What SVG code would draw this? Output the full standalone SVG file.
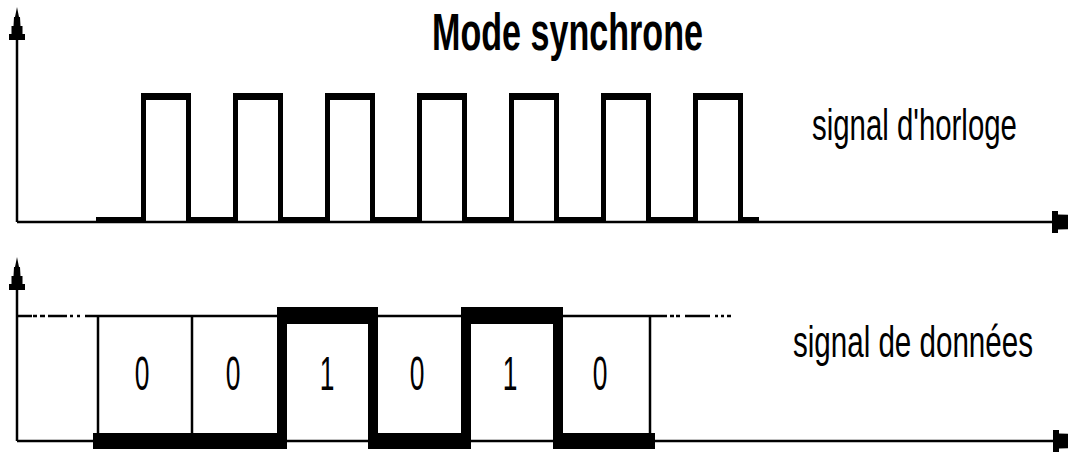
<svg xmlns="http://www.w3.org/2000/svg" width="1068" height="452" viewBox="0 0 1068 452">
<style>
.bg{fill:#fff}
.axis{stroke:#000;stroke-width:2.5;fill:none}
.thin{stroke:#000;stroke-width:2.5;fill:none}
.sig{fill:#000}
.lbl{font-family:"Liberation Sans",Arial,sans-serif;font-size:44px;fill:#000}
.title{font-family:"Liberation Sans",Arial,sans-serif;font-size:52px;font-weight:bold;fill:#000}
.bit{font-family:"Liberation Sans",Arial,sans-serif;font-size:48px;fill:#000;text-anchor:middle}
</style>
<defs>
<marker id="arrV" markerUnits="userSpaceOnUse" markerWidth="40" markerHeight="20" refX="0" refY="0" viewBox="0 -10 40 20" orient="auto" overflow="visible">
<path d="M0,-8 L6,-8 L6,-5.5 L14,-5.5 L14,-3.5 L23,-3 L23,-2 L33,0 L23,2 L23,3 L14,3.5 L14,5.5 L6,5.5 L6,8 L0,8 Z" fill="#000"/>
</marker>
<marker id="arrH" markerUnits="userSpaceOnUse" markerWidth="40" markerHeight="26" refX="0" refY="0" viewBox="0 -13 40 26" orient="auto" overflow="visible">
<path d="M0,-11 L6,-11 L6,-7.5 L20,-7 L30,-4 L36,0 L30,4 L20,7 L6,7.5 L6,11 L0,11 Z" fill="#000"/>
</marker>
</defs>
<rect class="bg" x="0" y="0" width="1068" height="452"/>

<g id="title">
<text class="title" transform="translate(432,50) scale(0.656,1)">Mode synchrone</text>
</g>

<g id="connectors">
<!-- top axes -->
<line class="axis" x1="17" y1="222" x2="17" y2="40" marker-end="url(#arrV)"/>
<line class="axis" x1="17" y1="222" x2="1052" y2="222" marker-end="url(#arrH)"/>
<!-- bottom axes -->
<line class="axis" x1="17" y1="441" x2="17" y2="290" marker-end="url(#arrV)"/>
<line class="axis" x1="17" y1="441" x2="1053" y2="441" marker-end="url(#arrH)"/>
</g>

<g id="clock-signal">
<path class="sig" d="M96,217h50v6h-50z M186,217h52v6h-52z M278,217h52v6h-52z M370,217h52v6h-52z M462,217h52v6h-52z M554,217h52v6h-52z M646,217h52v6h-52z M738,217h21v6h-21z
M141,93h50v7h-50z M141,93h5v130h-5z M186,93h5v130h-5z
M233,93h50v7h-50z M233,93h5v130h-5z M278,93h5v130h-5z
M325,93h50v7h-50z M325,93h5v130h-5z M370,93h5v130h-5z
M417,93h50v7h-50z M417,93h5v130h-5z M462,93h5v130h-5z
M509,93h50v7h-50z M509,93h5v130h-5z M554,93h5v130h-5z
M601,93h50v7h-50z M601,93h5v130h-5z M646,93h5v130h-5z
M693,93h50v7h-50z M693,93h5v130h-5z M738,93h5v130h-5z"/>
</g>

<g id="clock-label">
<text class="lbl" transform="translate(812,140) scale(0.668,1)">signal d'horloge</text>
</g>

<g id="data-grid">
<path class="thin" d="M17,316H32 M33,316H37 M40,316H45 M48,316H67 M70,316H73 M77,316H80 M85,316H667 M670,316H674 M676,316H680 M685,316H710 M715,316H718 M721,316H724 M727,316H731"/>
<path class="thin" d="M98,316V441 M192,316V441 M650,316V441"/>
</g>

<g id="data-signal">
<path class="sig" d="M93,433H287V449H93z M277,307h10V449h-10z M277,307H378V324H277z M368,307h10V449h-10z M368,433H471V449H368z M461,307h10V449h-10z M461,307H563V324H461z M553,307h10V449h-10z M553,433H655V449H553z"/>
</g>

<g id="bits">
<text class="bit" transform="translate(142,390) scale(0.55,1)">0</text>
<text class="bit" transform="translate(233,390) scale(0.55,1)">0</text>
<text class="bit" transform="translate(327,390) scale(0.55,1)">1</text>
<text class="bit" transform="translate(417,390) scale(0.55,1)">0</text>
<text class="bit" transform="translate(510,390) scale(0.55,1)">1</text>
<text class="bit" transform="translate(600,390) scale(0.55,1)">0</text>
</g>

<g id="data-label">
<text class="lbl" transform="translate(793,357) scale(0.672,1)">signal de données</text>
</g>
</svg>
